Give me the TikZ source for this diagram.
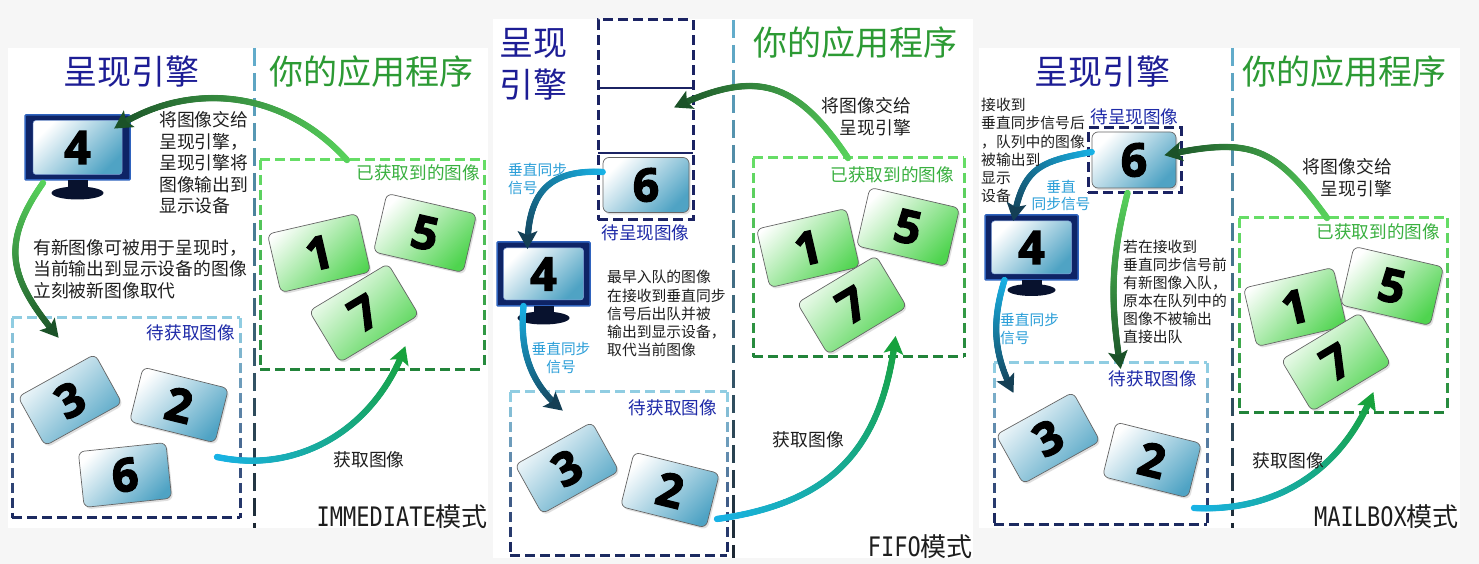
\documentclass[tikz,border=0pt]{standalone}
\usepackage{fontspec}
\setmainfont{Noto Sans CJK SC}
\newfontfamily\digitfont{Open Sans}[BoldFeatures={FakeBold=3}]
\newfontfamily\modefont{DejaVu Sans Mono}
\usetikzlibrary{arrows.meta,decorations.markings,shadows}

\definecolor{bgpaper}{HTML}{F6F6F6}
\definecolor{engineblue}{HTML}{1D1D95}
\definecolor{appgreen}{HTML}{2C9A34}
\definecolor{gotgreen}{HTML}{39B03F}
\definecolor{waitblue}{HTML}{1E2AA8}
\definecolor{inkblack}{HTML}{1E1E1E}
\definecolor{vsyncblue}{HTML}{2A9ED8}
\definecolor{divlight}{HTML}{62ACCB}
\definecolor{divdark}{HTML}{1B2733}
\definecolor{gotlight}{HTML}{66DD66}
\definecolor{gotdark}{HTML}{22843A}
\definecolor{waitlight}{HTML}{90CDE2}
\definecolor{waitdark}{HTML}{1C2A60}
\definecolor{queuenavy}{HTML}{1B2363}
\definecolor{cardblue}{HTML}{4FA3C4}
\definecolor{cardgreen}{HTML}{4FD44F}
\definecolor{flowlight}{HTML}{58D35C}
\definecolor{flowdark}{HTML}{1B5228}
\definecolor{flowcyan}{HTML}{18B2E6}
\definecolor{flowteal}{HTML}{143F55}
\definecolor{fetchgreen}{HTML}{17A23C}
\definecolor{bezel}{HTML}{0E2466}
\definecolor{bezeledge}{HTML}{2F63BE}
\definecolor{standnavy}{HTML}{08122E}

\tikzset{
  divider/.style={line width=3pt},
  title/.style={font=\fontsize{34}{42}\selectfont, inner sep=0pt, align=center},
  note/.style={font=\fontsize{17.8}{21.5}\selectfont, text=inkblack, align=left, inner sep=0pt},
  smallnote/.style={font=\fontsize{14.8}{18.1}\selectfont, text=inkblack, align=left, inner sep=0pt},
  vsync/.style={font=\fontsize{14.7}{17.8}\selectfont, text=vsyncblue, align=left, inner sep=0pt},
  boxlabel/.style={font=\fontsize{17.6}{20}\selectfont, inner sep=0pt, anchor=east},
  mode/.style={font=\fontsize{26}{30}\selectfont, text=inkblack, inner sep=0pt, anchor=east},
  framebox/.style={line width=3pt, dash pattern=on 10pt off 5pt, inner sep=0pt, outer sep=0pt},
  areabox/.style={inner sep=0pt, outer sep=0pt},
  queuebox/.style={framebox, draw=queuenavy},
  card/.style={rounded corners=6pt, draw=black!60, line width=0.7pt, inner sep=0pt,
    font=\digitfont\bfseries\fontsize{46}{46}\selectfont,
    drop shadow={opacity=0.25, shadow xshift=1.5pt, shadow yshift=-2pt}},
  bluecard/.style={card, minimum width=88pt, minimum height=56pt,
    left color=white, right color=cardblue, shading angle=45},
  greencard/.style={card, minimum width=92pt, minimum height=60pt,
    left color=white, right color=cardgreen, shading angle=45},
  monitor/.style={fill=bezel, draw=bezeledge, line width=1.5pt, rounded corners=1pt,
    inner sep=0pt, outer sep=0pt},
  screen/.style={rounded corners=3pt, draw=bezeledge!60, line width=0.5pt, inner sep=0pt,
    left color=white, right color=cardblue, shading angle=45,
    font=\digitfont\bfseries\fontsize{46}{46}\selectfont},
  flow/.style 2 args={
    postaction={decorate, decoration={markings,
      mark=between positions 0 and 1 step 1pt with {%
        \pgfmathsetmacro\flowlen{\pgfdecoratedpathlength}%
        \pgfmathsetmacro\flowat{\pgfkeysvalueof{/pgf/decoration/mark info/distance from start}}%
        \pgfmathtruncatemacro\flowpct{\flowat/\flowlen*100}%
        \pgfmathtruncatemacro\flowon{\flowat<\flowlen-10}%
        \ifnum\flowon=1
          \pgfsetfillcolor{#2!\flowpct!#1}%
          \pgfpathcircle{\pgfpointorigin}{3.2pt}%
          \pgfusepath{fill}%
        \fi}}},
    postaction={decorate, decoration={markings,
      mark=at position 0.9999 with {%
        \fill[#2] (1pt,0pt) -- (-17pt,10pt) -- (-13pt,0pt) -- (-17pt,-10pt) -- cycle;}}}
  }
}

\begin{document}
\begin{tikzpicture}[x=1pt,y=1pt]
\useasboundingbox (0,0) rectangle (1479,564);
\fill[bgpaper] (0,0) rectangle (1479,564);
\fill[white] (8,36) rectangle (488,516);
\fill[white] (493,6) rectangle (973,545);
\fill[white] (979,36) rectangle (1460,516);

\foreach \px/\ytop/\ybot in {254/516/36, 733/544/6, 1232/516/36}{
  \pgfmathtruncatemacro\nd{(\ytop-\ybot)/25}
  \foreach \i in {0,...,\nd}{
    \pgfmathtruncatemacro\dpct{100*\i/\nd}
    \pgfmathsetmacro\dtop{\ytop-25*\i}
    \pgfmathsetmacro\dbot{max(\dtop-18,\ybot)}
    \draw[divider, draw=divdark!\dpct!divlight] (\px,\dtop) -- (\px,\dbot);
  }
}

\node[areabox, minimum width=224pt, minimum height=210pt] (immgot) at (372,299) {};
\node[areabox, minimum width=228pt, minimum height=200pt] (immwait) at (126,146) {};
\node[areabox, minimum width=211pt, minimum height=199pt] (fifogot) at (858.5,306.5) {};
\node[areabox, minimum width=217pt, minimum height=164pt] (fifowait) at (618.5,90) {};
\node[areabox, minimum width=208pt, minimum height=195pt] (mboxgot) at (1343,248.5) {};
\node[areabox, minimum width=213pt, minimum height=162pt] (mboxwait) at (1100.5,120) {};

\foreach \bl/\br/\bt/\bb/\lt/\dk in {260/484/404/194/gotlight/gotdark,
    12/240/246/46/waitlight/waitdark, 753/964/406/207/gotlight/gotdark,
    510/727/172/8/waitlight/waitdark, 1239/1447/346/151/gotlight/gotdark,
    994/1207/201/39/waitlight/waitdark}{
  \draw[framebox, draw=\lt] (\bl,\bt) -- (\br,\bt);
  \draw[framebox, draw=\dk] (\bl,\bb) -- (\br,\bb);
  \pgfmathtruncatemacro\nb{(\bt-\bb)/15}
  \foreach \i in {0,...,\nb}{
    \pgfmathtruncatemacro\bpct{100*\i/\nb}
    \pgfmathsetmacro\segtop{\bt-15*\i}
    \pgfmathsetmacro\segbot{max(\segtop-10,\bb)}
    \draw[framebox, solid, draw=\dk!\bpct!\lt] (\bl,\segtop) -- (\bl,\segbot) (\br,\segtop) -- (\br,\segbot);
  }
}

% IMMEDIATE
\node[bluecard, rotate=29] (imm3) at (70,164) {3};
\node[bluecard, rotate=-14] (imm2) at (179,159) {2};
\node[bluecard, rotate=6] (imm6) at (125,89) {6};
\node[greencard, rotate=13] (imm1) at (319,311) {1};
\node[greencard, rotate=-13] (imm5) at (425,331) {5};
\node[greencard, rotate=31] (imm7) at (364,251) {7};

\node[monitor, minimum width=105pt, minimum height=65pt] (immmon) at (77.5,416.5) {};
\node[screen, minimum width=89pt, minimum height=54pt] (immscr) at (immmon) {4};
\fill[standnavy] ([xshift=-10pt]immmon.south) rectangle ([xshift=10pt,yshift=-9pt]immmon.south);
\fill[standnavy] ([yshift=-13pt]immmon.south) ellipse [x radius=26pt, y radius=6.5pt];

\path[flow={flowlight}{flowdark}] ([xshift=87pt]immgot.north west) to[out=132,in=33] ([xshift=-15pt,yshift=-13pt]immmon.north east);
\path[flow={flowlight}{flowdark}] ([xshift=18pt,yshift=-3pt]immmon.south west) to[out=235,in=130,looseness=1.25] ([xshift=46pt,yshift=-19pt]immwait.north west);
\path[flow={flowcyan}{fetchgreen}] ([xshift=-23pt,yshift=61pt]immwait.south east) to[out=-12,in=250] ([xshift=33pt,yshift=23pt]immgot.south);

\node[title, text=engineblue] (immengine) at (131,492) {呈现引擎};
\node[title, text=appgreen] (immapp) at (371,492) {你的应用程序};
\node[note, anchor=west] (immhand) at (159,401) {将图像交给\\呈现引擎，\\呈现引擎将\\图像输出到\\显示设备};
\node[note, anchor=west] (immswap) at (33,295) {有新图像可被用于呈现时，\\当前输出到显示设备的图像\\立刻被新图像取代};
\node[note] (immfetch) at (369,104) {获取图像};
\node[boxlabel, text=gotgreen] at ([xshift=-4pt,yshift=-13pt]immgot.north east) {已获取到的图像};
\node[boxlabel, text=waitblue] at ([xshift=-5pt,yshift=-15pt]immwait.north east) {待获取图像};
\node[mode] (immmode) at (488,47) {{\modefont\fontsize{22}{26}\selectfont\scalebox{1}[1.22]{IMMEDIATE}}模式};

% FIFO
\node[queuebox, minimum width=95pt, minimum height=200pt] (fifoqueue) at (645.5,444) {};
\draw[queuenavy, line width=1.8pt] ([yshift=32pt]fifoqueue.west) -- ([yshift=32pt]fifoqueue.east);
\draw[queuenavy, line width=1.8pt] ([yshift=-33pt]fifoqueue.west) -- ([yshift=-33pt]fifoqueue.east);

\node[bluecard, minimum width=86pt, minimum height=55pt] (fifo6) at (646,379) {6};
\node[bluecard, rotate=29] (fifo3) at (567,96) {3};
\node[bluecard, rotate=-14] (fifo2) at (670,74) {2};
\node[greencard, rotate=13] (fifo1) at (808,316) {1};
\node[greencard, rotate=-13] (fifo5) at (908,337) {5};
\node[greencard, rotate=31] (fifo7) at (852,259) {7};

\node[monitor, minimum width=93pt, minimum height=64pt] (fifomon) at (543.5,290) {};
\node[screen, minimum width=80pt, minimum height=52pt] (fifoscr) at (fifomon) {4};
\fill[standnavy] ([xshift=-10pt]fifomon.south) rectangle ([xshift=10pt,yshift=-8pt]fifomon.south);
\fill[standnavy] ([yshift=-12pt]fifomon.south) ellipse [x radius=26pt, y radius=6.5pt];

\path[flow={flowlight}{flowdark}] ([xshift=95pt]fifogot.north west) to[out=124,in=25,looseness=1.3] ([xshift=-18pt,yshift=13pt]fifoqueue.east);
\path[flow={flowcyan}{flowteal}] ([yshift=13pt]fifo6.west) to[out=177,in=90,looseness=1.3] ([xshift=-16pt,yshift=-6pt]fifomon.north);
\path[flow={flowcyan}{flowteal}] ([xshift=-20pt]fifomon.south) to[out=265,in=140] ([xshift=52pt,yshift=-18pt]fifowait.north west);
\path[flow={flowcyan}{fetchgreen}] ([xshift=-10pt,yshift=37pt]fifowait.south east) to[out=8,in=263,looseness=1.15] ([xshift=37pt,yshift=20pt]fifogot.south);

\node[title, text=engineblue] (fifoengine) at (533.5,500) {呈现\\引擎};
\node[title, text=appgreen] (fifoapp) at (855,521) {你的应用程序};
\node[note, anchor=east, align=right] (fifohand) at (911,447.5) {将图像交给\\呈现引擎};
\node[smallnote, anchor=west] (fifoout) at (607,250.5) {最早入队的图像\\在接收到垂直同步\\信号后出队并被\\输出到显示设备，\\取代当前图像};
\node[vsync, anchor=west] (fifosig1) at (508,385) {垂直同步\\信号};
\node[vsync, align=center] (fifosig2) at (561,206) {垂直同步\\信号};
\node[note] (fifofetch) at (808.5,124) {获取图像};
\node[boxlabel, text=waitblue, anchor=center] at ([yshift=-13pt]fifoqueue.south) {待呈现图像};
\node[boxlabel, text=gotgreen] at ([xshift=-10pt,yshift=-17pt]fifogot.north east) {已获取到的图像};
\node[boxlabel, text=waitblue] at ([xshift=-10pt,yshift=-16pt]fifowait.north east) {待获取图像};
\node[mode] (fifomode) at (973,17) {{\modefont\fontsize{22}{26}\selectfont\scalebox{1}[1.22]{FIFO}}模式};

% MAILBOX
\node[queuebox, minimum width=93pt, minimum height=65pt] (mboxqueue) at (1134.5,403.5) {};

\node[bluecard, minimum width=84pt, minimum height=56pt] (mbox6) at (1134,404) {6};
\node[bluecard, rotate=29] (mbox3) at (1048,126) {3};
\node[bluecard, rotate=-14] (mbox2) at (1152,104) {2};
\node[greencard, rotate=13] (mbox1) at (1295,257) {1};
\node[greencard, rotate=-13] (mbox5) at (1392,278) {5};
\node[greencard, rotate=31] (mbox7) at (1336,202) {7};

\node[monitor, minimum width=93pt, minimum height=65pt] (mboxmon) at (1031.5,316.5) {};
\node[screen, minimum width=80pt, minimum height=53pt] (mboxscr) at (mboxmon) {4};
\fill[standnavy] ([xshift=-10pt]mboxmon.south) rectangle ([xshift=10pt,yshift=-7pt]mboxmon.south);
\fill[standnavy] ([yshift=-10pt]mboxmon.south) ellipse [x radius=24pt, y radius=6pt];

\path[flow={flowlight}{flowdark}] ([xshift=88pt]mboxgot.north west) to[out=126,in=12,looseness=1.3] ([xshift=-11pt,yshift=5pt]mbox6.east);
\path[flow={flowcyan}{flowteal}] ([yshift=8pt]mbox6.west) to[out=190,in=80,looseness=1.3] ([xshift=-18pt,yshift=-5pt]mboxmon.north);
\path[flow={flowlight}{flowdark}] ([xshift=-7pt]mboxqueue.south) to[out=256,in=99] ([xshift=20pt,yshift=-5pt]mboxwait.north);
\path[flow={flowcyan}{flowteal}] ([xshift=-27pt]mboxmon.south) to[out=253,in=117] ([xshift=19pt,yshift=-29pt]mboxwait.north west);
\path[flow={flowcyan}{fetchgreen}] ([xshift=-13pt,yshift=17pt]mboxwait.south east) to[out=-3,in=248] ([xshift=30pt,yshift=20pt]mboxgot.south);

\node[title, text=engineblue] (mboxengine) at (1102,492) {呈现引擎};
\node[title, text=appgreen] (mboxapp) at (1344,492) {你的应用程序};
\node[smallnote, anchor=west] (mboxout) at (981,413.5) {接收到\\垂直同步信号后\\，队列中的图像\\被输出到\\显示\\设备};
\node[boxlabel, text=waitblue, anchor=center] at ([yshift=11pt]mboxqueue.north) {待呈现图像};
\node[vsync, align=center] (mboxsig1) at (1061,368.5) {垂直\\同步信号};
\node[note, anchor=east, align=right] (mboxhand) at (1392,386.5) {将图像交给\\呈现引擎};
\node[boxlabel, text=gotgreen] at ([xshift=-7pt,yshift=-14pt]mboxgot.north east) {已获取到的图像};
\node[smallnote, anchor=west] (mboxdrop) at (1123,272) {若在接收到\\垂直同步信号前\\有新图像入队，\\原本在队列中的\\图像不被输出\\直接出队};
\node[vsync, anchor=west] (mboxsig2) at (1000,235) {垂直同步\\信号};
\node[boxlabel, text=waitblue] at ([xshift=-10pt,yshift=-16pt]mboxwait.north east) {待获取图像};
\node[note] (mboxfetch) at (1288.5,103) {获取图像};
\node[mode] (mboxmode) at (1459,47) {{\modefont\fontsize{22}{26}\selectfont\scalebox{1}[1.22]{MAILBOX}}模式};
\end{tikzpicture}
\end{document}
